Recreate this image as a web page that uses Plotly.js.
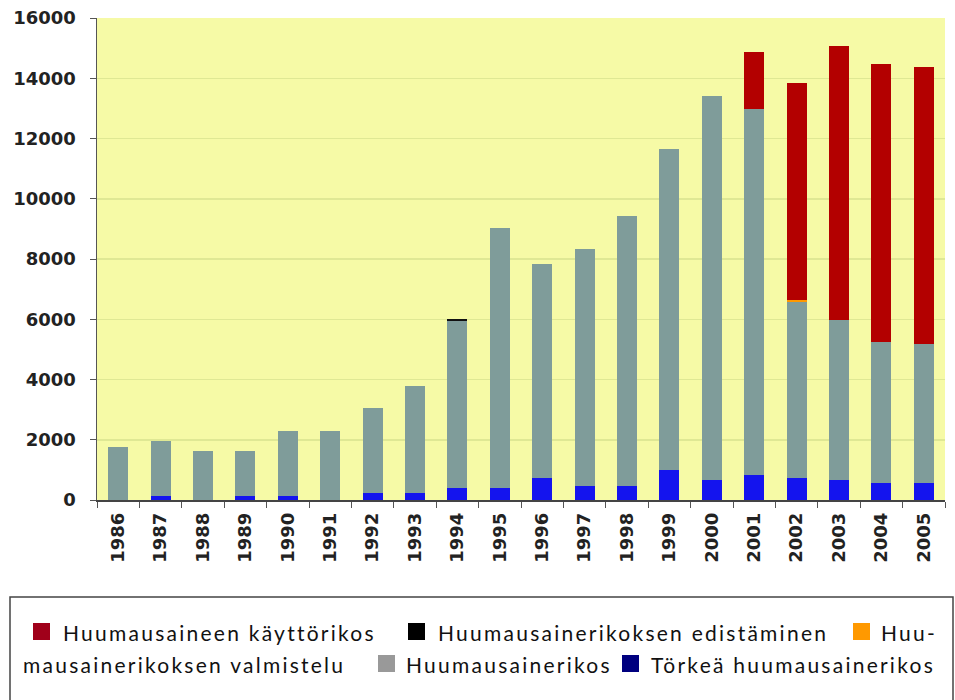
<!DOCTYPE html>
<html>
<head>
<meta charset="utf-8">
<script src="https://cdn.plot.ly/plotly-3.0.1.min.js"></script>
<style>html,body{margin:0;padding:0;background:#fff;}#chart{width:955px;height:700px;}
#chart .annotation-text{letter-spacing:2.25px;}</style>
</head>
<body>
<div id="chart"></div>
<script>
const years = ["1986","1987","1988","1989","1990","1991","1992","1993","1994","1995","1996","1997","1998","1999","2000","2001","2002","2003","2004","2005"];
const torkea = [0,130,0,130,130,0,230,230,400,400,730,470,470,1000,660,830,730,660,560,560];
const huumausainerikos = [1750,1820,1630,1500,2170,2300,2830,3560,5550,8640,7110,7870,8970,10660,12760,12160,5850,5320,4690,4620];
const valmistelu = [0,0,0,0,0,0,0,0,0,0,0,0,0,0,0,0,60,0,0,0];
const edistaminen = [0,0,0,0,0,0,0,0,60,0,0,0,0,0,0,0,0,0,0,0];
const kayttorikos = [0,0,0,0,0,0,0,0,0,0,0,0,0,0,0,1870,7210,9080,9230,9210];

const seriesNames = ["Törkeä huumausainerikos","Huumausainerikos","Huumausainerikoksen valmistelu","Huumausainerikoksen edistäminen","Huumausaineen käyttörikos"];
const barColors = ["#1414ee","#7f9c9a","#ff9900","#111111","#b30000"];
const legendColors = ["#00007f","#999999","#ff9900","#000000","#a0001a"];
const seriesData = [torkea, huumausainerikos, valmistelu, edistaminen, kayttorikos];

const traces = seriesData.map((d,i)=>({
  type:"bar", x:years, y:d, name:seriesNames[i],
  marker:{color:barColors[i], line:{width:0}},
  showlegend:false, hoverinfo:"x+y+name"
}));

// plot area geometry in pixels
const L=97, R=945, T=18, B=500;
const px = x => (x-L)/(R-L);
const py = y => (B-y)/(B-T);

const legendFont = {family:"Lato, Liberation Sans, Arial, sans-serif", size:21, color:"#111"};
const items = [
  {sq:33, tx:62, y:632, text:"Huumausaineen käyttörikos", c:legendColors[4]},
  {sq:408, tx:437, y:632, text:"Huumausainerikoksen edistäminen", c:legendColors[3]},
  {sq:853, tx:880, y:632, text:"Huu-", c:legendColors[2]},
  {sq:null, tx:22, y:664, text:"mausainerikoksen valmistelu", c:null},
  {sq:378, tx:405, y:664, text:"Huumausainerikos", c:legendColors[1]},
  {sq:622, tx:650, y:664, text:"Törkeä huumausainerikos", c:legendColors[0]}
];
const shapes = [
  {type:"rect", xref:"paper", yref:"paper", x0:px(10), x1:px(953), y0:py(597), y1:py(720),
   line:{color:"#444", width:1.5}, fillcolor:"rgba(0,0,0,0)"}
];
const annotations = [];
items.forEach(it=>{
  if(it.sq!==null){
    shapes.push({type:"rect", xref:"paper", yref:"paper", x0:px(it.sq), x1:px(it.sq+17),
      y0:py(it.y+8), y1:py(it.y-9), line:{width:0}, fillcolor:it.c});
  }
  annotations.push({xref:"paper", yref:"paper", x:px(it.tx), y:py(it.y), xanchor:"left", yanchor:"middle",
    align:"left", borderpad:0, text:it.text, showarrow:false, font:legendFont});
});

const tickFont = {family:"DejaVu Sans, sans-serif", size:18, color:"#222", weight:"bold"};
const layout = {
  width:955, height:700,
  margin:{l:L, r:955-R, t:T, b:700-B},
  paper_bgcolor:"#ffffff", plot_bgcolor:"#f6faa6",
  barmode:"stack", bargap:0.53,
  xaxis:{type:"category", tickangle:-90, tickfont:tickFont, tickson:"boundaries",
    ticks:"outside", ticklen:6, tickcolor:"#555", showline:true, linecolor:"#444", linewidth:1.5,
    showgrid:false, ticklabelstandoff:4},
  yaxis:{range:[0,16000], dtick:2000, tickfont:tickFont, ticks:"outside", ticklen:6, tickcolor:"#555",
    showline:true, linecolor:"#555", linewidth:1.5, gridcolor:"#dfe894", gridwidth:1.5,
    zeroline:false, ticklabelstandoff:10, tickformat:"d"},
  shapes:shapes, annotations:annotations, showlegend:false
};
Plotly.newPlot("chart", traces, layout, {displayModeBar:false, staticPlot:true});
</script>
</body>
</html>
